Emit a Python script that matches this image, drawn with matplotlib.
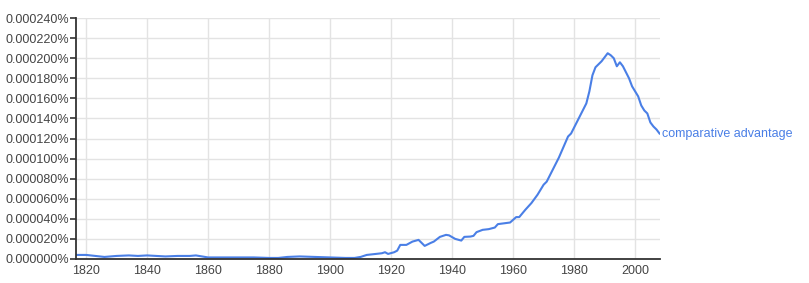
import matplotlib
matplotlib.use("Agg")
import matplotlib.pyplot as plt
from matplotlib.ticker import FixedLocator, FuncFormatter

# frequency in units of 0.000001 %
years = [1817, 1820, 1823, 1826, 1830, 1834, 1837, 1840, 1843, 1846, 1850,
         1854, 1856, 1858, 1860, 1865, 1870, 1875, 1880, 1883, 1886, 1890,
         1895, 1900, 1905, 1908, 1910, 1912, 1915, 1917, 1918, 1919, 1921,
         1922, 1923, 1925, 1927, 1929, 1931, 1933, 1934, 1936, 1938, 1939,
         1941, 1943, 1944, 1946, 1947, 1948, 1950, 1952, 1954, 1955, 1957,
         1959, 1961, 1962, 1964, 1966, 1968, 1970, 1971, 1973, 1975, 1976,
         1978, 1979, 1982, 1984, 1985, 1986, 1987, 1989, 1991, 1992, 1993,
         1994, 1995, 1996, 1998, 1999, 2000, 2001, 2002, 2003, 2004, 2005,
         2006, 2007, 2008]
values = [4, 4, 3, 2, 3, 3.5, 3, 3.5, 3, 2.5, 3,
          3, 3.5, 2.5, 1.5, 1.5, 1.5, 1.5, 1, 1, 2, 2.5,
          2, 1.5, 1, 1, 2, 4, 5, 5.7, 6.7, 5, 6.7,
          8.3, 14, 14, 17.3, 19, 13, 16, 17.3, 22, 24, 23.5,
          20, 18.3, 22, 22.3, 23, 26.7, 29, 29.7, 31.3, 34.7, 35.5,
          36.3, 41.7, 41.7, 49, 55.7, 64, 74, 77, 89, 101, 108,
          122, 125, 143, 155, 167, 183, 191, 197, 205, 203, 200,
          192, 196, 192, 180, 172, 167, 162, 153, 148, 145, 136,
          132, 129, 125]

label = "comparative advantage"
x_ticks = [1820, 1840, 1860, 1880, 1900, 1920, 1940, 1960, 1980, 2000]
y_ticks = list(range(0, 241, 20))

plt.rcParams['font.family'] = ['Liberation Sans', 'DejaVu Sans']

fig = plt.figure(figsize=(8.09, 2.83), dpi=100)
ax = fig.add_axes([0.094, 0.085, 0.722, 0.851])

line_color = '#4a7fe6'
ax.plot(years, values, color=line_color, linewidth=1.5, solid_joinstyle='round')
ax.text(years[-1] + 0.8, values[-1], label, color=line_color, fontsize=9,
        va='center', ha='left', clip_on=False)

ax.set_xlim(1816.7, 2008.2)
ax.set_ylim(0, 240)
ax.xaxis.set_major_locator(FixedLocator(x_ticks))
ax.yaxis.set_major_locator(FixedLocator(y_ticks))
ax.yaxis.set_major_formatter(FuncFormatter(lambda v, p: f"{v * 1e-6:.6f}%"))

ax.grid(True, color='#e3e3e3', linewidth=1)
ax.set_axisbelow(True)
for side in ['top', 'right']:
    ax.spines[side].set_visible(False)
for side in ['left', 'bottom']:
    ax.spines[side].set_color('#333333')
    ax.spines[side].set_linewidth(1.3)

ax.tick_params(axis='y', length=4, width=1.2, color='#333333',
               labelsize=9, labelcolor='#444444', pad=1)
ax.tick_params(axis='x', length=0, labelsize=9, labelcolor='#444444', pad=4)

fig.savefig('out.png', dpi=100)
